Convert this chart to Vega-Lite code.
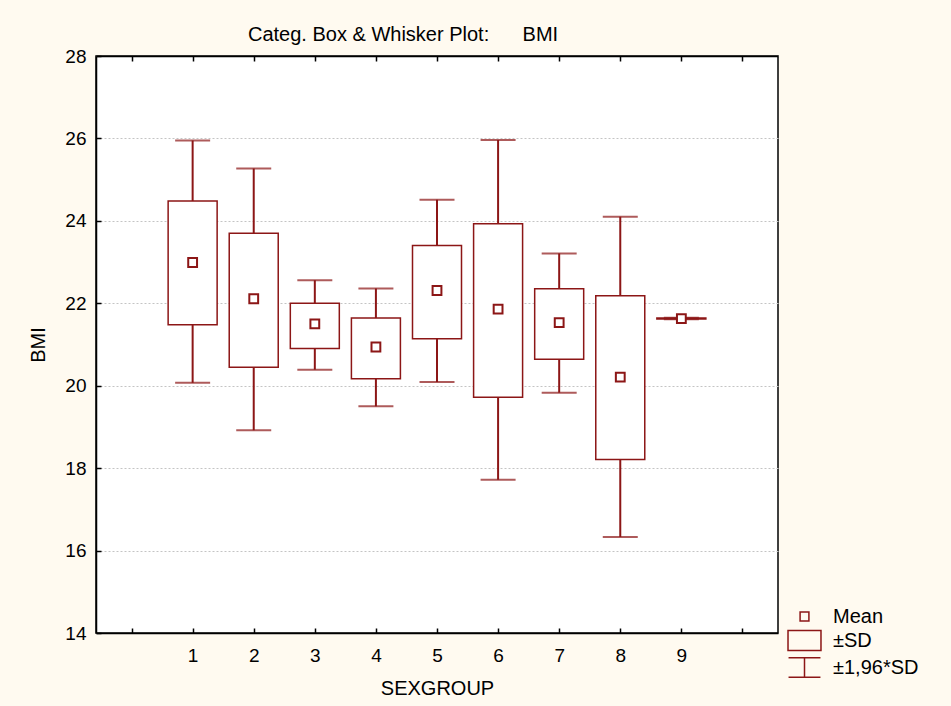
{
  "$schema": "https://vega.github.io/schema/vega-lite/v6.json",
  "width": 682,
  "height": 577,
  "autosize": {"type": "none"},
  "padding": {"left": 96, "top": 56, "right": 173, "bottom": 73},
  "background": "#fffaf0",
  "config": {
    "font": "Liberation Sans",
    "view": {"fill": "white", "stroke": "black", "strokeWidth": 1.5},
    "axis": {
      "labelFont": "Liberation Sans",
      "labelFontSize": 19,
      "labelColor": "black",
      "titleFont": "Liberation Sans",
      "titleFontSize": 20,
      "titleFontWeight": "normal",
      "titleColor": "black",
      "domainColor": "black",
      "domainWidth": 1.5,
      "tickColor": "black",
      "tickWidth": 1.5,
      "tickSize": -5
    }
  },
  "title": {
    "text": "Categ. Box & Whisker Plot:\u00a0\u00a0\u00a0\u00a0\u00a0\u00a0BMI",
    "anchor": "start",
    "frame": "group",
    "dx": 152,
    "font": "Liberation Sans",
    "fontSize": 20,
    "fontWeight": "normal",
    "color": "black",
    "baseline": "alphabetic",
    "offset": -14
  },
  "data": {
    "values": [
      {"group": 1, "mean": 22.99, "sd_lo": 21.48, "sd_hi": 24.48, "w_lo": 20.07, "w_hi": 25.95},
      {"group": 2, "mean": 22.11, "sd_lo": 20.45, "sd_hi": 23.70, "w_lo": 18.92, "w_hi": 25.27},
      {"group": 3, "mean": 21.50, "sd_lo": 20.90, "sd_hi": 22.00, "w_lo": 20.39, "w_hi": 22.56},
      {"group": 4, "mean": 20.94, "sd_lo": 20.17, "sd_hi": 21.64, "w_lo": 19.50, "w_hi": 22.36},
      {"group": 5, "mean": 22.31, "sd_lo": 21.14, "sd_hi": 23.40, "w_lo": 20.09, "w_hi": 24.51},
      {"group": 6, "mean": 21.86, "sd_lo": 19.72, "sd_hi": 23.93, "w_lo": 17.72, "w_hi": 25.96},
      {"group": 7, "mean": 21.53, "sd_lo": 20.64, "sd_hi": 22.35, "w_lo": 19.83, "w_hi": 23.21},
      {"group": 8, "mean": 20.21, "sd_lo": 18.21, "sd_hi": 22.18, "w_lo": 16.33, "w_hi": 24.10},
      {"group": 9, "mean": 21.63, "sd_lo": 21.62, "sd_hi": 21.64, "w_lo": 21.61, "w_hi": 21.65}
    ]
  },
  "layer": [
    {
      "mark": {"type": "rule", "color": "#8c1616", "strokeWidth": 2},
      "encoding": {
        "x": {
          "field": "group", "type": "quantitative",
          "scale": {"domain": [-0.5, 10.5], "nice": false, "zero": false},
          "axis": {
            "orient": "bottom", "title": "SEXGROUP", "grid": false,
            "values": [0, 1, 2, 3, 4, 5, 6, 7, 8, 9, 10],
            "labelExpr": "datum.value >= 1 && datum.value <= 9 ? datum.value : ''",
            "labelPadding": 18, "titlePadding": 13
          }
        },
        "y": {
          "field": "w_lo", "type": "quantitative", "title": "BMI",
          "scale": {"domain": [14, 28], "nice": false, "zero": false},
          "axis": {
            "values": [14, 16, 18, 20, 22, 24, 26, 28],
            "grid": true, "gridColor": "#c4c4c4", "gridDash": [2, 2], "gridWidth": 1,
            "labelPadding": 15, "titlePadding": 16
          }
        },
        "y2": {"field": "w_hi"}
      }
    },
    {
      "mark": {"type": "tick", "orient": "horizontal", "color": "#8c1616", "size": 35, "thickness": 2},
      "encoding": {
        "x": {
          "field": "group", "type": "quantitative",
          "axis": {"orient": "top", "labels": false, "title": null, "grid": false, "values": [0, 1, 2, 3, 4, 5, 6, 7, 8, 9, 10]}
        },
        "y": {"field": "w_lo", "type": "quantitative", "title": "BMI"}
      }
    },
    {
      "mark": {"type": "tick", "orient": "horizontal", "color": "#8c1616", "size": 35, "thickness": 2},
      "encoding": {
        "x": {"field": "group", "type": "quantitative", "axis": null},
        "y": {"field": "w_hi", "type": "quantitative", "title": "BMI"}
      }
    },
    {
      "mark": {"type": "bar", "width": 49, "fill": "white", "stroke": "#8c1616", "strokeWidth": 1.5},
      "encoding": {
        "x": {"field": "group", "type": "quantitative", "axis": null},
        "y": {"field": "sd_lo", "type": "quantitative", "title": "BMI"},
        "y2": {"field": "sd_hi"}
      }
    },
    {
      "mark": {"type": "point", "shape": "square", "filled": true, "color": "white", "opacity": 1, "size": 70},
      "encoding": {
        "x": {"field": "group", "type": "quantitative", "axis": null},
        "y": {"field": "mean", "type": "quantitative", "title": "BMI"}
      }
    },
    {
      "mark": {"type": "point", "filled": false, "color": "#8c1616", "strokeWidth": 2, "opacity": 1, "size": 441},
      "encoding": {
        "x": {"field": "group", "type": "quantitative", "axis": null},
        "y": {"field": "mean", "type": "quantitative", "title": "BMI"},
        "shape": {
          "datum": "Mean",
          "scale": {
            "domain": ["Mean", "\u00b1SD", "\u00b11,96*SD"],
            "range": [
              "M-0.42,-0.42H0.42V0.42H-0.42Z",
              "M-1.57,-0.95H1.57V0.95H-1.57Z",
              "M-1.52,-0.92H1.52M0,-0.92V0.92M-1.52,0.92H1.52"
            ]
          },
          "legend": {
            "title": null,
            "orient": "none",
            "legendX": 697,
            "legendY": 549,
            "padding": 0,
            "symbolSize": 441,
            "symbolStrokeColor": "#8c1616",
            "symbolStrokeWidth": 1.5,
            "symbolOpacity": 1,
            "labelFont": "Liberation Sans",
            "labelFontSize": 20,
            "labelColor": "black",
            "labelOffset": 17,
            "rowPadding": 0
          }
        }
      }
    }
  ],
  "resolve": {"axis": {"x": "independent"}}
}
